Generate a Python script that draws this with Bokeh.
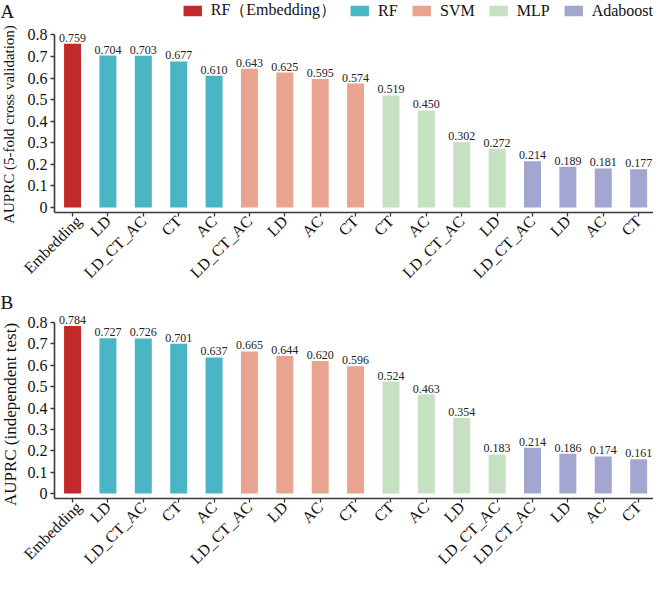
import math
from bokeh.plotting import figure
from bokeh.models import ColumnDataSource, FixedTicker, Range1d
from bokeh.layouts import column, row
from bokeh.embed import file_html
from bokeh.resources import INLINE
from bokeh.core.properties import value

FONT = "Liberation Serif"

group_names = ["RF（Embedding）", "RF", "SVM", "MLP", "Adaboost"]
group_colors = ["#C2292B", "#4AB5C4", "#E9A48F", "#C6E0C2", "#A3A6D0"]

cv_labels = ["Embedding", "LD", "LD_CT_AC", "CT", "AC",
             "LD_CT_AC", "LD", "AC", "CT",
             "CT", "AC", "LD_CT_AC", "LD",
             "LD_CT_AC", "LD", "AC", "CT"]
cv_groups = ["RF（Embedding）", "RF", "RF", "RF", "RF",
             "SVM", "SVM", "SVM", "SVM",
             "MLP", "MLP", "MLP", "MLP",
             "Adaboost", "Adaboost", "Adaboost", "Adaboost"]
cv_values = [0.759, 0.704, 0.703, 0.677, 0.610,
             0.643, 0.625, 0.595, 0.574,
             0.519, 0.450, 0.302, 0.272,
             0.214, 0.189, 0.181, 0.177]

test_labels = ["Embedding", "LD", "LD_CT_AC", "CT", "AC",
               "LD_CT_AC", "LD", "AC", "CT",
               "CT", "AC", "LD", "LD_CT_AC",
               "LD_CT_AC", "LD", "AC", "CT"]
test_groups = ["RF（Embedding）", "RF", "RF", "RF", "RF",
               "SVM", "SVM", "SVM", "SVM",
               "MLP", "MLP", "MLP", "MLP",
               "Adaboost", "Adaboost", "Adaboost", "Adaboost"]
test_values = [0.784, 0.727, 0.726, 0.701, 0.637,
               0.665, 0.644, 0.620, 0.596,
               0.524, 0.463, 0.354, 0.183,
               0.214, 0.186, 0.174, 0.161]

y_ticks = [0, 0.1, 0.2, 0.3, 0.4, 0.5, 0.6, 0.7, 0.8]
y_tick_text = ["0", "0.1", "0.2", "0.3", "0.4", "0.5", "0.6", "0.7", "0.8"]

panel_letters = ["A", "B"]
y_titles = ["AUPRC (5-fold cross validation)", "AUPRC (independent test)"]

AXIS_COLOR = "#3a3a3a"
TXT = "#111111"
LEFT_W = 20
MAIN_W = 633
H1 = 290
H2 = 286


def make_panel(labels, groups, values, height, y_start, y_end,
               border_bottom, with_legend):
    n = len(labels)
    p = figure(width=MAIN_W, height=height, output_backend="svg", toolbar_location=None,
               x_range=Range1d(-0.51, n - 1 + 0.42), y_range=Range1d(y_start, y_end),
               min_border_left=34, min_border_right=0, min_border_top=0,
               min_border_bottom=border_bottom)
    p.outline_line_color = None
    p.xgrid.grid_line_color = None
    p.ygrid.grid_line_color = None
    p.background_fill_color = None
    p.border_fill_color = "white"

    xs = list(range(n))
    for g, c in zip(group_names, group_colors):
        idx = [i for i in xs if groups[i] == g]
        src = ColumnDataSource(dict(x=[xs[i] for i in idx], top=[values[i] for i in idx]))
        kw = dict(legend_label=g) if with_legend else {}
        p.vbar(x="x", top="top", bottom=0, width=0.48, source=src,
               fill_color=c, line_color=None, **kw)

    tsrc = ColumnDataSource(dict(x=xs, y=values, t=["%.3f" % v for v in values]))
    p.text(x="x", y="y", text="t", source=tsrc, text_align="center",
           text_baseline="bottom", y_offset=-2, text_font=value(FONT),
           text_font_size="12px", text_color="#222222")

    p.xaxis.ticker = FixedTicker(ticks=xs)
    p.xaxis.major_label_overrides = {i: labels[i] for i in xs}
    p.xaxis.major_label_orientation = math.pi / 4
    p.yaxis.ticker = FixedTicker(ticks=y_ticks)
    p.yaxis.major_label_overrides = {t: s for t, s in zip(y_ticks, y_tick_text)}
    p.yaxis.bounds = (y_start, 0.8)
    for ax in (p.xaxis[0], p.yaxis[0]):
        ax.axis_line_color = AXIS_COLOR
        ax.axis_line_width = 1.6
        ax.major_tick_line_color = AXIS_COLOR
        ax.major_tick_line_width = 1.3
        ax.major_tick_in = 0
        ax.major_tick_out = 4
        ax.minor_tick_line_color = None
        ax.major_label_text_font = FONT
        ax.major_label_text_color = TXT
    p.xaxis.major_label_standoff = 2
    p.yaxis.major_label_standoff = 3
    p.xaxis.major_label_text_font_size = "16px"
    p.yaxis.major_label_text_font_size = "16px"

    if with_legend:
        lg = p.legend[0]
        lg.orientation = "horizontal"
        lg.location = "top_right"
        lg.margin = 0
        lg.padding = 0
        lg.spacing = 12
        lg.label_standoff = 7
        lg.glyph_width = 23
        lg.glyph_height = 13
        lg.label_text_font = FONT
        lg.label_text_font_size = "16px"
        lg.label_text_color = TXT
        lg.label_height = 13
        lg.background_fill_alpha = 0
        lg.border_line_color = None
    return p


p1 = make_panel(cv_labels, cv_groups, cv_values, H1, -0.023, 0.959, 74, True)
p2 = make_panel(test_labels, test_groups, test_values, H2, -0.023, 0.95, 72, False)

# left strip holding the panel letters and rotated y-axis titles
HT = H1 + H2
left = figure(width=LEFT_W, height=HT, output_backend="svg", toolbar_location=None,
              x_range=Range1d(0, LEFT_W), y_range=Range1d(0, HT),
              x_axis_type=None, y_axis_type=None, min_border=0)
left.outline_line_color = None
left.xgrid.grid_line_color = None
left.ygrid.grid_line_color = None
left.background_fill_color = None

left.text(x=[0], y=[HT], text=[panel_letters[0]], text_align="left", text_baseline="top",
          text_font=value(FONT), text_font_size="19px", text_color=TXT)
left.text(x=[0], y=[HT - 302], text=[panel_letters[1]], text_align="left",
          text_baseline="middle", text_font=value(FONT), text_font_size="19px",
          text_color=TXT)
left.text(x=[0], y=[HT - 124], text=[y_titles[0]], angle=math.pi / 2,
          text_align="center", text_baseline="top", text_font=value(FONT),
          text_font_size="15px", text_color=TXT)
left.text(x=[0], y=[HT - 414], text=[y_titles[1]], angle=math.pi / 2,
          text_align="center", text_baseline="top", text_font=value(FONT),
          text_font_size="17px", text_color=TXT)

layout = row(left, column(p1, p2, spacing=0), spacing=0)
open("out.html", "w").write(file_html(layout, INLINE))
